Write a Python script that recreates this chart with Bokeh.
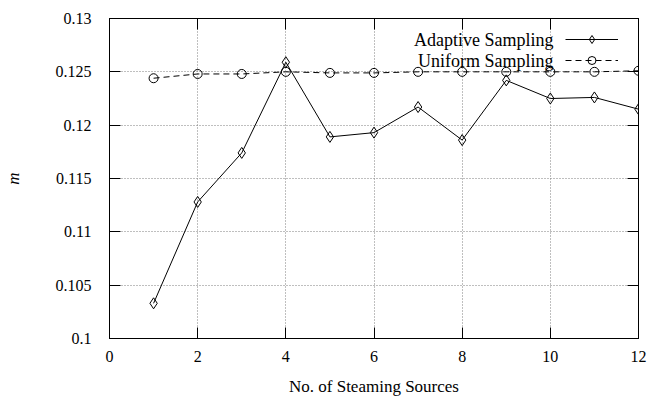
from bokeh.plotting import figure
from bokeh.models import (FixedTicker, LinearAxis, Legend, LegendItem, Label)
from bokeh.embed import file_html
from bokeh.resources import INLINE

# ---- data ----
sources = [1, 2, 3, 4, 5, 6, 7, 8, 9, 10, 11, 12]
adaptive = [0.1033, 0.1128, 0.1174, 0.1259, 0.1189, 0.1193, 0.1217, 0.1186, 0.1242, 0.1225, 0.1226, 0.1215]
uniform = [0.1244, 0.1248, 0.1248, 0.1250, 0.1249, 0.1249, 0.1250, 0.1250, 0.1250, 0.1250, 0.1250, 0.1251]
series_names = ["Adaptive Sampling", "Uniform Sampling"]
x_ticks = [0, 2, 4, 6, 8, 10, 12]
y_ticks = [0.1, 0.105, 0.11, 0.115, 0.12, 0.125, 0.13]
y_tick_labels = ["0.1", "0.105", "0.11", "0.115", "0.12", "0.125", "0.13"]
x_title = "No. of Steaming Sources"
y_title = "m"

FONT = "serif"

p = figure(width=668, height=401, output_backend="svg", toolbar_location=None,
           x_range=(0, 12), y_range=(0.1, 0.13),
           min_border_left=109, min_border_right=30, min_border_top=18, min_border_bottom=63)
p.outline_line_color = "black"

# axes
p.xaxis.ticker = FixedTicker(ticks=x_ticks)
p.yaxis.ticker = FixedTicker(ticks=y_ticks)
p.yaxis.major_label_overrides = {t: l for t, l in zip(y_ticks, y_tick_labels)}
p.xaxis.axis_label = x_title
p.yaxis.axis_label = y_title
for ax in (p.xaxis[0], p.yaxis[0]):
    ax.major_tick_in = 11
    ax.major_tick_out = 0
    ax.minor_tick_line_color = None
    ax.axis_line_color = "black"
    ax.major_tick_line_color = "black"
    ax.major_label_text_font = FONT
    ax.major_label_text_font_size = "16px"
    ax.major_label_text_color = "black"
    ax.axis_label_text_font = FONT
    ax.axis_label_text_font_size = "17px"
    ax.axis_label_text_color = "black"
p.xaxis.axis_label_text_font_style = "normal"
p.yaxis.axis_label_text_font_style = "italic"
p.xaxis.major_label_standoff = 12
p.xaxis.axis_label_standoff = 12
p.yaxis.major_label_standoff = 18
p.yaxis.axis_label_standoff = 30

# mirrored ticks on top and right (labels hidden)
for loc, tick in (("right", y_ticks), ("above", x_ticks)):
    ax = LinearAxis(ticker=FixedTicker(ticks=tick))
    ax.major_tick_in = 11
    ax.major_tick_out = 0
    ax.minor_tick_line_color = None
    ax.major_label_text_font = FONT
    ax.major_label_text_font_size = "6px"
    ax.major_label_text_color = None
    ax.major_label_standoff = 0
    ax.axis_line_color = "black"
    p.add_layout(ax, loc)

# grid
p.grid.grid_line_color = "#7f7f7f"
p.grid.grid_line_dash = "1 2"
p.grid.grid_line_width = 1

# series
u_line = p.line(sources, uniform, line_color="black", line_width=1, line_dash="6 4")
u_pts = p.scatter(sources, uniform, marker="circle", size=9, fill_color=None,
                  line_color="black", line_width=1)
a_line = p.line(sources, adaptive, line_color="black", line_width=1)
a_pts = p.scatter(sources, adaptive, marker="diamond", size=11, fill_color=None,
                  line_color="black", line_width=1)

# legend texts (right-aligned, to the left of the samples)
for name, yy in zip(series_names, [0.12803, 0.12606]):
    p.add_layout(Label(x=10.07, y=yy, text=name, text_align="right", text_baseline="middle",
                       text_font=FONT, text_font_size="18px", text_color="black"))

legend = Legend(items=[LegendItem(label=" ", renderers=[a_line, a_pts]),
                       LegendItem(label=" ", renderers=[u_line, u_pts])],
                location=(456, 268), padding=0, margin=0, spacing=1,
                glyph_width=53, glyph_height=20, label_standoff=0, label_width=0,
                border_line_color=None, background_fill_alpha=0)
p.add_layout(legend, "center")

open("out.html", "w").write(file_html(p, INLINE))
